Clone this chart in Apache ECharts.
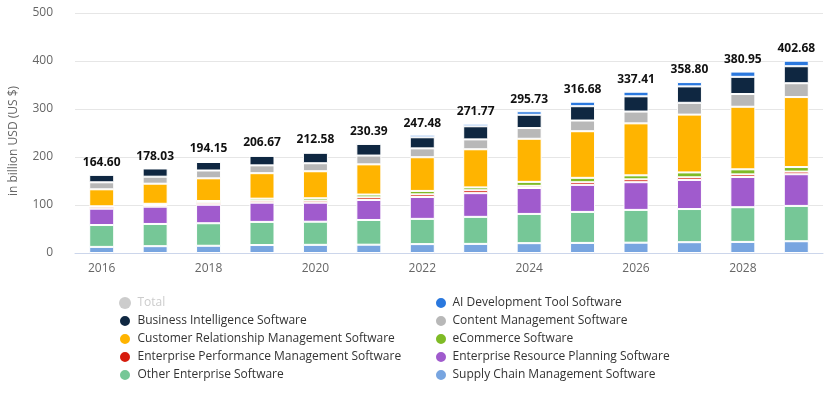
<!DOCTYPE html>
<html>
<head>
<meta charset="utf-8">
<script src="https://cdn.jsdelivr.net/npm/echarts@6/dist/echarts.min.js"></script>
<style>html,body{margin:0;padding:0;background:#fff;}#c{width:835px;height:395px;}</style>
</head>
<body>
<div id="c"></div>
<script>
const years = ['2016','2017','2018','2019','2020','2021','2022','2023','2024','2025','2026','2027','2028','2029'];
const totals = [164.60,178.03,194.15,206.67,212.58,230.39,247.48,271.77,295.73,316.68,337.41,358.80,380.95,402.68];
const supplyChain = [12.7,14.2,15.1,16.6,17.0,17.3,18.5,19.0,20.5,21.0,21.5,22.5,23.1,24.5];
const otherEnterprise = [45.6,46.3,46.9,48.2,48.2,51.5,52.6,56.3,60.9,64.6,68.3,69.1,72.3,73.6];
const erp = [34.0,36.0,38.5,40.0,39.6,41.7,45.6,49.4,54.0,56.3,57.7,60.6,62.9,66.0];
const epm = [4.0,3.5,4.0,4.0,4.2,5.5,5.5,6.0,4.5,5.5,6.0,5.5,5.5,5.5];
const ecommerce = [1.0,2.5,3.8,4.4,5.0,5.8,7.1,6.0,8.3,9.2,8.3,10.2,10.5,9.5];
const crm = [35.4,41.9,47.3,53.1,56.3,62.9,70.2,79.4,89.8,97.1,108.3,120.4,130.4,145.8];
const contentMgmt = [14.6,14.6,16.3,16.3,16.7,18.3,18.5,20.6,22.3,22.3,24.6,24.6,26.5,28.8];
const businessIntel = [15.6,17.1,17.7,19.8,21.9,24.2,23.1,27.3,27.7,29.8,31.7,34.2,35.8,35.4];
const aiDev = [0,0,0,0,0,2.9,5.2,5.2,7.3,9.4,9.6,9.0,11.0,11.5];
const yTicks = [0,100,200,300,400,500];

const FONT = 'Open Sans';
const stackDefs = [
  ['Supply Chain Management Software', supplyChain, '#78a5e0'],
  ['Other Enterprise Software', otherEnterprise, '#76c797'],
  ['Enterprise Resource Planning Software', erp, '#a05bcd'],
  ['Enterprise Performance Management Software', epm, '#d61c0d'],
  ['eCommerce Software', ecommerce, '#7fbb26'],
  ['Customer Relationship Management Software', crm, '#ffb400'],
  ['Content Management Software', contentMgmt, '#b8b8b8'],
  ['Business Intelligence Software', businessIntel, '#0f2741'],
  ['AI Development Tool Software', aiDev, '#2a78de']
];

const series = stackDefs.map(([name, data, color]) => ({
  name, type: 'bar', stack: 'total', data, barWidth: 25, z: 3,
  itemStyle: { color, borderColor: '#fff', borderWidth: 1 },
  emphasis: { disabled: true }, silent: true
}));
series.push({
  name: 'Total', type: 'bar', data: totals, barWidth: 25, barGap: '-100%', z: 1,
  itemStyle: { color: 'rgba(0,0,0,0)' }, silent: true, emphasis: { disabled: true },
  label: { show: true, position: 'top', distance: 5, color: '#111', fontFamily: FONT,
    fontSize: 12, fontWeight: 'bold', formatter: p => p.value.toFixed(2) }
});

const legendText = { fontFamily: FONT, fontSize: 12, color: '#333', lineHeight: 14 };
const chart = echarts.init(document.getElementById('c'), null, { renderer: 'canvas' });
chart.setOption({
  animation: false,
  textStyle: { fontFamily: FONT },
  grid: { left: 73, right: 12, top: 13, bottom: 142 },
  legend: [
    { orient: 'vertical', left: 113, top: 291, itemWidth: 15, itemHeight: 12, itemGap: 4,
      icon: 'circle', selectedMode: false, textStyle: legendText,
      data: [ { name: 'Total', itemStyle: { color: '#cccccc' }, textStyle: { color: '#cccccc' } },
        'Business Intelligence Software', 'Customer Relationship Management Software',
        'Enterprise Performance Management Software', 'Other Enterprise Software'] },
    { orient: 'vertical', left: 429, top: 291, itemWidth: 13, itemHeight: 12, itemGap: 4,
      icon: 'circle', selectedMode: false, textStyle: legendText,
      data: ['AI Development Tool Software', 'Content Management Software', 'eCommerce Software',
        'Enterprise Resource Planning Software', 'Supply Chain Management Software'] }
  ],
  xAxis: {
    type: 'category', data: years,
    axisLine: { lineStyle: { color: '#ccd6eb' } },
    axisTick: { alignWithLabel: true, interval: 1, length: 7, lineStyle: { color: '#ccd6eb' } },
    axisLabel: { interval: 1, margin: 10, color: '#666', fontSize: 12, fontFamily: FONT }
  },
  yAxis: {
    type: 'value', min: yTicks[0], max: yTicks[yTicks.length - 1], interval: 100,
    name: 'in billion USD (US $)', nameLocation: 'middle', nameGap: 55,
    nameTextStyle: { color: '#666', fontSize: 12, fontFamily: FONT, padding: [0, 16, 0, 0] },
    axisLine: { show: false }, axisTick: { show: false },
    splitLine: { lineStyle: { color: '#e6e6e6' } },
    axisLabel: { margin: 22, color: '#666', fontSize: 12, fontFamily: FONT }
  },
  series
});
</script>
</body>
</html>
